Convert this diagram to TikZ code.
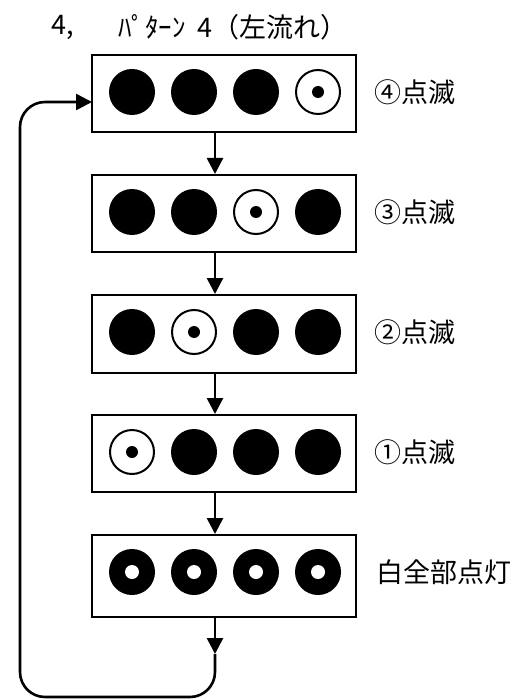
\documentclass[tikz,border=0pt]{standalone}
\usepackage{fontspec}
\setmainfont{Noto Sans CJK JP}
\usetikzlibrary{arrows.meta,calc}
\begin{document}
\begin{tikzpicture}[x=1pt,y=-1pt,
  panel/.style={draw,line width=2pt,minimum width=264pt,inner sep=0pt},
  lamp/.style={circle,fill=black,minimum size=46pt,inner sep=0pt},
  blink/.style={circle,draw=black,line width=2pt,fill=white,minimum size=44pt,inner sep=0pt,
    path picture={\fill[black] (path picture bounding box.center) circle (6pt);}},
  ring/.style={circle,fill=black,minimum size=46pt,inner sep=0pt,
    path picture={\fill[white] (path picture bounding box.center) circle (7pt);}},
  flow/.style={line width=2.6pt,-{Triangle[length=16pt,width=16pt]}},
  loopline/.style={line width=2.6pt,rounded corners=25pt,-{Triangle[length=16pt,width=16pt]}},
  lbl/.style={font=\fontsize{27}{32}\selectfont,anchor=west,inner sep=0pt},
  ttl/.style={font=\fontsize{27}{32}\selectfont,anchor=west,inner sep=0pt}]
\useasboundingbox (0,0) rectangle (523,700);

% title
\node[ttl] (t1) at (51,27) {4,};
\node[ttl] (t2) at (118,27) {ﾊﾟﾀｰﾝ\hspace{12pt}4（左流れ）};

% panels
\node[panel,minimum height=77pt] (b1) at (224,93.5) {};
\node[panel,minimum height=77pt] (b2) at (224,213.5) {};
\node[panel,minimum height=78pt] (b3) at (224,334) {};
\node[panel,minimum height=77pt] (b4) at (224,453.5) {};
\node[panel,minimum height=82pt] (b5) at (224,576) {};

% lamps row 1
\node[lamp]  (l11) at (132,92) {};
\node[lamp]  (l12) at (194,92) {};
\node[lamp]  (l13) at (256,92) {};
\node[blink] (l14) at (318,92) {};
% row 2
\node[lamp]  (l21) at (132,212) {};
\node[lamp]  (l22) at (194,212) {};
\node[blink] (l23) at (256,212) {};
\node[lamp]  (l24) at (318,212) {};
% row 3
\node[lamp]  (l31) at (132,332) {};
\node[blink] (l32) at (194,332) {};
\node[lamp]  (l33) at (256,332) {};
\node[lamp]  (l34) at (318,332) {};
% row 4
\node[blink] (l41) at (132,452) {};
\node[lamp]  (l42) at (194,452) {};
\node[lamp]  (l43) at (256,452) {};
\node[lamp]  (l44) at (318,452) {};
% row 5
\node[ring] (l51) at (132,572) {};
\node[ring] (l52) at (194,572) {};
\node[ring] (l53) at (256,572) {};
\node[ring] (l54) at (318,572) {};

% labels
\node[lbl] (n1) at (374,92) {④点滅};
\node[lbl] (n2) at (374,212) {③点滅};
\node[lbl] (n3) at (374,332) {②点滅};
\node[lbl] (n4) at (374,452) {①点滅};
\node[lbl] (n5) at (376,572) {白全部点灯};

% connectors
\coordinate (ax) at (215,0);
\draw[flow] (b1.south -| ax) -- (b2.north -| ax);
\draw[flow] (b2.south -| ax) -- (b3.north -| ax);
\draw[flow] (b3.south -| ax) -- (b4.north -| ax);
\draw[flow] (b4.south -| ax) -- (b5.north -| ax);
\coordinate (mid) at (215,654);
\coordinate (entry) at (92,102);
\draw[flow] (b5.south -| ax) -- (mid);
\draw[loopline] (mid) -- (215,697) -- (20,697) -- (20,102) -- (entry);
\end{tikzpicture}
\end{document}
